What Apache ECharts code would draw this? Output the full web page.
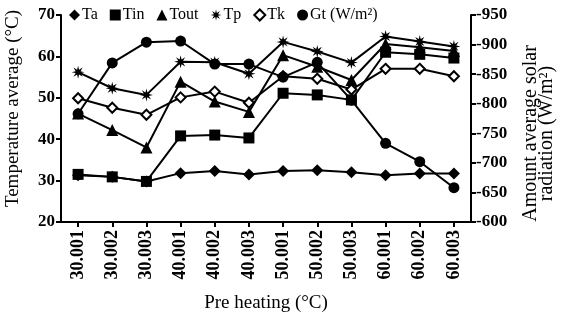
<!DOCTYPE html>
<html>
<head>
<meta charset="utf-8">
<script src="https://cdn.jsdelivr.net/npm/echarts@6/dist/echarts.min.js"></script>
<style>
  html, body { margin: 0; padding: 0; background: #fff; }
  #chart { width: 561px; height: 324px; }
</style>
</head>
<body>
<div id="chart"></div>
<script>
  // data
  var categories = ['30.001', '30.002', '30.003', '40.001', '40.002', '40.003',
                    '50.001', '50.002', '50.003', '60.001', '60.002', '60.003'];
  var ta   = [31.3, 30.9, 29.8, 31.8, 32.3, 31.5, 32.3, 32.5, 32.0, 31.3, 31.7, 31.7];
  var tin  = [31.5, 30.9, 29.8, 40.8, 41.0, 40.3, 51.1, 50.7, 49.5, 61.0, 60.5, 59.6];
  var tout = [46.2, 42.2, 38.0, 53.9, 49.1, 46.6, 60.3, 57.5, 54.3, 63.0, 62.2, 61.3];
  var tp   = [56.2, 52.3, 50.7, 58.7, 58.6, 55.8, 63.5, 61.2, 58.5, 64.8, 63.6, 62.4];
  var tk   = [49.9, 47.6, 45.9, 50.1, 51.5, 48.8, 55.2, 54.6, 52.0, 57.0, 57.0, 55.2];
  var gt   = [783, 869, 904, 906, 867, 867, 845, 870, 806, 733, 702, 658];

  var font = 'Liberation Serif';
  // 8 armed asterisk for Tp
  var asterisk = 'path://M10,0 L3.7,1.5 L7.07,7.07 L1.5,3.7 L0,10 L-1.5,3.7 L-7.07,7.07 L-3.7,1.5 L-10,0 L-3.7,-1.5 L-7.07,-7.07 L-1.5,-3.7 L0,-10 L1.5,-3.7 L7.07,-7.07 L3.7,-1.5 Z';

  function line(name, data, symbol, size, axis) {
    return {
      name: name,
      type: 'line',
      yAxisIndex: axis || 0,
      data: data,
      symbol: symbol,
      symbolSize: size,
      showAllSymbol: true,
      lineStyle: { color: '#000', width: 2 },
      itemStyle: { color: '#000', borderColor: '#000', borderWidth: symbol === 'emptyDiamond' ? 1.8 : 0 },
      emphasis: { disabled: true },
      animation: false
    };
  }

  var axisLine = { show: true, lineStyle: { color: '#000', width: 2 } };
  var axisTick = { show: true, length: 5, lineStyle: { color: '#000', width: 2 } };

  var option = {
    backgroundColor: '#fff',
    textStyle: { fontFamily: font, color: '#000' },
    legend: {
      left: 64,
      top: 2,
      itemGap: 12,
      itemWidth: 11,
      itemHeight: 11,
      textStyle: { fontFamily: font, fontSize: 16, color: '#000', padding: [0, 0, 0, -3] },
      data: [
        { name: 'Ta', icon: 'diamond' },
        { name: 'Tin', icon: 'rect' },
        { name: 'Tout', icon: 'triangle' },
        { name: 'Tp', icon: asterisk },
        { name: 'Tk', icon: 'emptyDiamond' },
        { name: 'Gt (W/m²)', icon: 'circle' }
      ]
    },
    grid: { left: 61, right: 90, top: 15, bottom: 102, containLabel: false, outerBoundsMode: 'none' },
    xAxis: {
      type: 'category',
      data: categories,
      boundaryGap: true,
      name: 'Pre heating (°C)',
      nameLocation: 'middle',
      nameGap: 72,
      nameTextStyle: { fontFamily: font, fontSize: 19, color: '#000' },
      axisLine: axisLine,
      axisTick: { show: true, alignWithLabel: true, length: 5, lineStyle: { color: '#000', width: 2 } },
      axisLabel: { color: '#000', fontFamily: font, fontWeight: 'bold', fontSize: 18, rotate: 90, margin: 8, interval: 0 },
      splitLine: { show: false }
    },
    yAxis: [{
      type: 'value',
      min: 20,
      max: 70,
      interval: 10,
      name: 'Temperature average (°C)',
      nameLocation: 'middle',
      nameGap: 38,
      nameTextStyle: { fontFamily: font, fontSize: 19, color: '#000', padding: [0, 0, 0, 20] },
      axisLine: axisLine,
      axisTick: axisTick,
      axisLabel: { color: '#000', fontFamily: font, fontWeight: 'bold', fontSize: 17, margin: 6 },
      splitLine: { show: false }
    }, {
      type: 'value',
      min: 600,
      max: 950,
      interval: 50,
      position: 'right',
      name: 'Amount average solar\nradiation (W/m²)',
      nameLocation: 'middle',
      nameGap: 52,
      nameRotate: 90,
      nameTextStyle: { fontFamily: font, fontSize: 20, color: '#000', lineHeight: 16, padding: [0, 30, 0, 0] },
      axisLine: axisLine,
      axisTick: axisTick,
      axisLabel: { color: '#000', fontFamily: font, fontWeight: 'bold', fontSize: 17, margin: 5, formatter: '-{value}' },
      splitLine: { show: false }
    }],
    series: [
      line('Ta', ta, 'diamond', 12),
      line('Tin', tin, 'rect', 11),
      line('Tout', tout, 'triangle', 12),
      line('Tp', tp, asterisk, 13),
      line('Tk', tk, 'emptyDiamond', 10),
      line('Gt (W/m²)', gt, 'circle', 11, 1)
    ]
  };

  var mychart = echarts.init(document.getElementById('chart'));
  mychart.setOption(option);
</script>
</body>
</html>
